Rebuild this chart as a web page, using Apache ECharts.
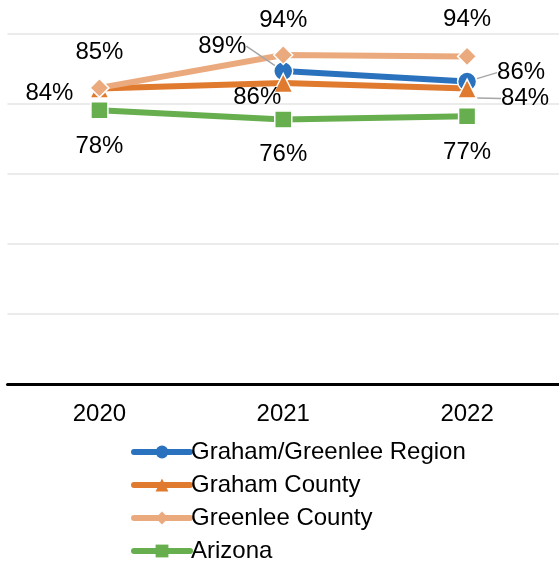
<!DOCTYPE html>
<html><head><meta charset="utf-8">
<script src="https://cdn.jsdelivr.net/npm/echarts@6/dist/echarts.min.js"></script>
<style>html,body{margin:0;padding:0;background:#fff}#c{width:559px;height:563px}</style>
</head><body><div id="c"></div>
<script>
var years = ['2020', '2021', '2022'];
var regionVals = [null, 89.4, 86.4];
var grahamVals = [84.4, 86.0, 84.4];
var greenleeVals = [84.6, 94.0, 93.6];
var arizonaVals = [78.2, 75.6, 76.5];
var seriesNames = ['Graham/Greenlee Region', 'Graham County', 'Greenlee County', 'Arizona'];

// label offsets (dx, dy) relative to each point
var labelOffsets = [
  [null, [-61, -25], [54, -9]],
  [[-50, 5], [-26, 14], [58, 10]],
  [[0, -36], [0, -35], [0, -37]],
  [[0, 36], [0, 35], [0, 36]]
];
var leaderShown = [[false, true, true], [false, false, true], [false, false, false], [false, false, false]];

var chart = echarts.init(document.getElementById('c'));
var colors = ['#2A72BD', '#E07A2E', '#EBAA7E', '#67AE4E'];
var symbols = ['circle', 'triangle', 'diamond', 'rect'];
var symSizes = [19, 19, 19, 17];
var dataSets = [regionVals, grahamVals, greenleeVals, arizonaVals];
var FONT = 'Liberation Sans, Arial, sans-serif';

function mkSeries(i) {
  return {
    name: seriesNames[i],
    type: 'line',
    data: dataSets[i].map(function (v, j) {
      return { value: v, labelLine: { show: leaderShown[i][j] } };
    }),
    color: colors[i],
    symbol: symbols[i],
    symbolSize: symSizes[i],
    connectNulls: false,
    lineStyle: { width: 6, color: colors[i] },
    itemStyle: { color: colors[i], borderColor: '#fff', borderWidth: 1.5 },
    label: {
      show: true,
      position: 'inside',
      fontFamily: FONT,
      fontSize: 24,
      color: '#000',
      formatter: function (p) { return Math.round(p.value) + '%'; }
    },
    labelLine: { show: false, lineStyle: { color: '#a6a6a6', width: 1.5 } },
    labelLayout: function (p) {
      var o = labelOffsets[i][p.dataIndex];
      if (!o) return {};
      return { dx: o[0], dy: o[1] };
    },
    emphasis: { disabled: true },
    animation: false
  };
}

chart.setOption({
  animation: false,
  grid: { left: 7.5, right: -3, top: 34, bottom: 179 },
  xAxis: {
    type: 'category',
    data: years,
    boundaryGap: true,
    axisLine: { lineStyle: { color: '#000', width: 3 } },
    axisTick: { show: false },
    axisLabel: { fontFamily: FONT, fontSize: 24, color: '#000', margin: 18 }
  },
  yAxis: {
    type: 'value',
    min: 0, max: 100, interval: 20,
    axisLabel: { show: false },
    axisLine: { show: false },
    axisTick: { show: false },
    splitLine: { lineStyle: { color: '#ebebeb', width: 2 } }
  },
  legend: {
    orient: 'vertical',
    left: 131,
    top: 440,
    height: 130,
    padding: 0,
    itemWidth: 56,
    itemHeight: 16,
    itemGap: 9,
    itemStyle: { borderWidth: 0 },
    lineStyle: { width: 6, cap: 'round' },
    textStyle: { fontFamily: FONT, fontSize: 24, color: '#000', lineHeight: 24, padding: [0, 0, 0, -4] },
    data: seriesNames
  },
  series: [0, 1, 2, 3].map(mkSeries)
});
</script></body></html>
